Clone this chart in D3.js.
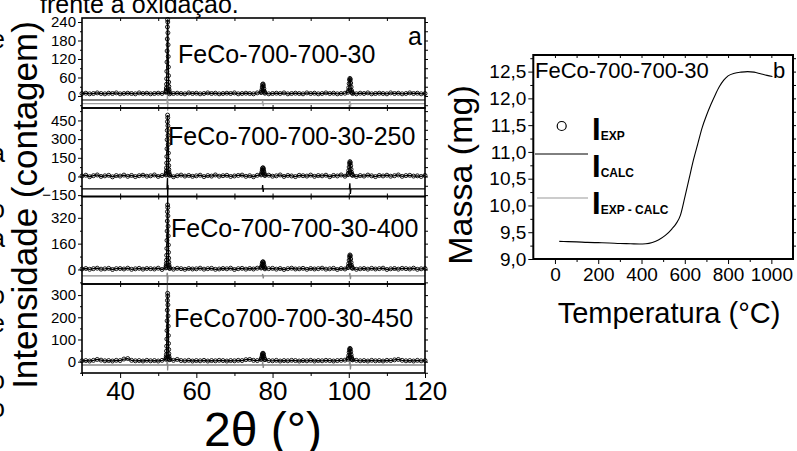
<!DOCTYPE html>
<html><head><meta charset="utf-8">
<script src="https://cdn.jsdelivr.net/npm/d3@7"></script>
<style>body{margin:0;background:#fff} svg{display:block}</style>
</head><body>
<svg id="c" width="797" height="451"></svg>
<script>
// ---------------- DATA ----------------
const panelLabels = ["FeCo-700-700-30","FeCo-700-700-30-250","FeCo-700-700-30-400","FeCo700-700-30-450"];
const xTickLabels = [40,60,80,100,120];
const yTicks1 = [0,60,120,180,240];
const yTicks2 = [-150,0,150,300,450];
const yTicks3 = [0,160,320];
const yTicks4 = [0,100,200,300];

// background intensities sampled every 1 degree, 30..120
const bg1 = [8,9,7,8,10,8,7,9,8,10, 7,8,9,8,7,10,8,9,7,8, 9,8,10,7,8,9,8,7,10,8, 9,7,8,10,8,9,7,8,9,8, 10,7,8,9,8,7,10,8,9,7, 8,9,8,10,7,8,9,8,7,10, 8,9,7,8,10,8,9,7,8,9, 10,8,7,9,8,10,7,8,9,8, 7,10,8,9,7,8,10,8,9,7, 8];
const bg2 = [4,10,-2,6,12,0,5,9,-3,7, 3,11,1,8,-1,6,10,2,5,12, 0,7,4,9,-2,6,11,3,8,1, 5,10,-1,7,3,12,2,6,9,0, 4,8,11,1,6,-2,9,3,7,10, 2,5,12,0,8,4,-1,9,6,3, 11,1,7,5,10,-2,8,4,12,2, 6,9,0,7,3,11,5,-1,8,4, 10,2,6,12,1,7,9,3,5,0, 8];
const bg3 = [3,6,1,5,8,2,4,7,0,5, 6,3,8,1,4,7,2,6,5,3, 8,0,4,6,2,7,5,1,6,3, 4,8,2,5,7,1,3,6,4,8, 0,5,7,2,6,3,8,1,4,5, 7,2,6,0,5,8,3,4,7,1, 6,3,5,8,2,4,7,0,6,3, 5,8,1,4,6,2,7,3,5,8, 0,4,6,2,7,5,3,8,1,4, 6];
const bg4 = [4,5,3,6,10,7,4,5,3,6, 5,12,14,6,4,5,3,6,4,5, 3,6,8,9,6,10,5,4,6,3, 5,4,6,3,5,4,6,5,3,5, 4,6,5,9,10,6,5,8,9,5, 4,6,3,5,4,6,5,3,5,4, 6,3,5,4,6,5,3,5,6,7, 9,8,6,4,5,3,6,4,5,3, 6,5,8,10,6,4,5,3,6,4, 5];

// peak regions [2theta, intensity]
const peaks1 = [[52.02,12],[52.06,14],[52.10,18],[52.14,26],[52.18,38],[52.22,56],[52.26,80],[52.30,110],[52.34,146],[52.38,185],[52.42,224],[52.46,248],[52.50,240],[52.54,205],[52.58,166],[52.62,128],[52.66,94],[52.70,66],[52.74,45],[52.78,31],[52.82,21],[52.86,15],[52.90,12],
  [77.0,11],[77.1,14],[77.2,20],[77.3,29],[77.4,37],[77.5,39],[77.6,33],[77.7,24],[77.8,16],[77.9,12],
  [99.8,12],[99.9,17],[100.0,27],[100.1,40],[100.2,52],[100.3,57],[100.4,53],[100.5,42],[100.6,29],[100.7,18],[100.8,13],[100.9,11]];
const peaks2 = [[52.02,12],[52.06,18],[52.10,28],[52.14,44],[52.18,70],[52.22,108],[52.26,160],[52.30,222],[52.34,295],[52.38,370],[52.42,440],[52.46,493],[52.50,472],[52.54,408],[52.58,330],[52.62,256],[52.66,188],[52.70,132],[52.74,88],[52.78,56],[52.82,34],[52.86,20],[52.90,13],
  [77.0,12],[77.1,20],[77.2,34],[77.3,52],[77.4,66],[77.5,70],[77.6,60],[77.7,42],[77.8,26],[77.9,15],
  [99.8,14],[99.9,26],[100.0,48],[100.1,76],[100.2,104],[100.3,119],[100.4,110],[100.5,86],[100.6,57],[100.7,33],[100.8,18],[100.9,12]];
const peaks3 = [[52.02,10],[52.06,15],[52.10,24],[52.14,38],[52.18,58],[52.22,88],[52.26,130],[52.30,180],[52.34,238],[52.38,300],[52.42,358],[52.46,400],[52.50,384],[52.54,332],[52.58,268],[52.62,208],[52.66,152],[52.70,106],[52.74,70],[52.78,45],[52.82,27],[52.86,16],[52.90,10],
  [77.0,9],[77.1,14],[77.2,24],[77.3,36],[77.4,45],[77.5,48],[77.6,41],[77.7,29],[77.8,18],[77.9,11],
  [99.8,11],[99.9,20],[100.0,37],[100.1,58],[100.2,79],[100.3,90],[100.4,84],[100.5,65],[100.6,43],[100.7,25],[100.8,14],[100.9,9]];
const peaks4 = [[52.02,11],[52.06,15],[52.10,22],[52.14,32],[52.18,48],[52.22,70],[52.26,102],[52.30,140],[52.34,184],[52.38,232],[52.42,276],[52.46,308],[52.50,296],[52.54,256],[52.58,206],[52.62,160],[52.66,118],[52.70,82],[52.74,55],[52.78,36],[52.82,23],[52.86,15],[52.90,11],
  [77.0,10],[77.1,14],[77.2,21],[77.3,30],[77.4,36],[77.5,38],[77.6,33],[77.7,24],[77.8,16],[77.9,11],
  [99.8,11],[99.9,17],[100.0,28],[100.1,42],[100.2,54],[100.3,60],[100.4,56],[100.5,45],[100.6,31],[100.7,20],[100.8,13],[100.9,10]];

// difference curves (offset) [2theta, value]
const diff1 = [[30,-25],[52.30,-25],[52.38,-8],[52.44,10],[52.48,-48],[52.54,-18],[52.62,-25],[77.30,-25],[77.40,-16],[77.55,-33],[77.65,-25],[100.15,-25],[100.28,-12],[100.42,-36],[100.55,-25],[120,-25]];
const diff2 = [[30,-100],[52.30,-100],[52.38,-40],[52.44,-10],[52.48,-230],[52.54,-70],[52.62,-100],[77.30,-100],[77.40,-70],[77.55,-125],[77.65,-100],[100.15,-100],[100.28,-55],[100.42,-140],[100.55,-100],[120,-100]];
const diff3 = [[30,-40],[52.30,-40],[52.40,-20],[52.48,-70],[52.56,-40],[77.30,-40],[77.42,-28],[77.56,-55],[77.66,-40],[100.15,-40],[100.28,-22],[100.42,-60],[100.55,-40],[120,-40]];
const diff4 = [[30,-15],[52.30,-15],[52.40,400],[52.46,-40],[52.54,-15],[77.30,-15],[77.42,0],[77.56,-28],[77.66,-15],[100.15,-15],[100.28,40],[100.42,-35],[100.55,-15],[120,-15]];
const refLine1 = -13;

// TGA curve
const tgaT = [20,60,100,150,200,250,300,350,390,420,450,480,510,540,560,580,600,620,640,660,680,700,720,740,760,780,800,830,860,890,920,950,980,1005];
const tgaM = [9.33,9.325,9.32,9.31,9.305,9.30,9.29,9.285,9.28,9.285,9.31,9.36,9.44,9.56,9.66,9.82,10.15,10.50,10.85,11.15,11.45,11.68,11.88,12.06,12.22,12.34,12.42,12.47,12.49,12.50,12.49,12.46,12.43,12.41];
const tgaXTicks = [0,200,400,600,800,1000];
const tgaYTicks = [9.0,9.5,10.0,10.5,11.0,11.5,12.0,12.5];

// cut-off characters of the surrounding document (left edge)
const edgeChars = ["e","l","l","r","a","l","o","a","l","o","e","l","o","o","l"];

// ---------------- DRAW ----------------
const FONT = '"Liberation Sans", Arial, Helvetica, sans-serif';
const svg = d3.select('#c').style('font-family', FONT);

// cut-off document text
svg.append('text').attr('x', 40).attr('y', 13).attr('font-size', 25).text('frente à oxidação.');
svg.append('g').selectAll('text').data(edgeChars).join('text')
  .attr('x', -9).attr('y', (d, k) => 48 + 28.4 * k).attr('font-size', 25).text(d => d);

const x = d3.scaleLinear().domain([30,120]).range([82,425]);
const bgTheta = d3.range(30,121,1);

const panels = [
  {bg:bg1, peaks:peaks1, diff:diff1, dc:'#a0a0a0', top:18, bottom:108, dom:[-39,253], major:yTicks1, minorStep:30, label:panelLabels[0], lx:178, ly:63, ref:refLine1},
  {bg:bg2, peaks:peaks2, diff:diff2, dc:'#000', top:108, bottom:196.5, dom:[-161,550], major:yTicks2, minorStep:75, label:panelLabels[1], lx:168, ly:145},
  {bg:bg3, peaks:peaks3, diff:diff3, dc:'#888', top:196.5, bottom:284, dom:[-90,452], major:yTicks3, minorStep:80, label:panelLabels[2], lx:171, ly:236.5},
  {bg:bg4, peaks:peaks4, diff:diff4, dc:'#888', top:284, bottom:373, dom:[-51,350], major:yTicks4, minorStep:50, label:panelLabels[3], lx:174, ly:326.5}
];

const windows = [[51.95,52.95],[76.95,77.95],[99.75,100.95]];
const inWin = t => windows.some(w => t >= w[0] && t <= w[1]);

function styleAxis(g, fs) {
  g.select('.domain').remove();
  g.selectAll('line').attr('stroke', '#000').attr('stroke-width', 1);
  g.selectAll('text').attr('fill', '#000').attr('font-size', fs).attr('font-family', FONT);
}

panels.forEach((p, i) => {
  const y = d3.scaleLinear().domain(p.dom).range([p.bottom, p.top]);
  const pts = bgTheta.map((t, k) => [t, p.bg[k]]).filter(d => !inWin(d[0])).concat(p.peaks).sort((a,b) => a[0]-b[0]);
  const g = svg.append('g');
  const minor = d3.range(Math.ceil(p.dom[0]/p.minorStep)*p.minorStep, p.dom[1], p.minorStep).filter(v => !p.major.includes(v));

  g.append('g').attr('transform', `translate(${x.range()[0]},0)`)
    .call(d3.axisLeft(y).tickValues(p.major).tickSize(4).tickPadding(2)).call(s => styleAxis(s, 15));
  g.append('g').attr('transform', `translate(${x.range()[0]},0)`)
    .call(d3.axisLeft(y).tickValues(minor).tickSize(2).tickFormat('')).call(s => styleAxis(s, 15));
  g.append('g').attr('transform', `translate(${x.range()[1]},0)`)
    .call(d3.axisLeft(y).tickValues(p.major.concat(minor)).tickSize(-3).tickFormat('')).call(s => styleAxis(s, 15));
  g.append('g').attr('transform', `translate(0,${p.top})`)
    .call(d3.axisBottom(x).tickValues(d3.range(40,120,10)).tickSize(3).tickFormat('')).call(s => styleAxis(s, 15));
  if (i < panels.length - 1) {
    g.append('g').attr('transform', `translate(0,${p.bottom})`)
      .call(d3.axisTop(x).tickValues(d3.range(40,120,10)).tickSize(3).tickFormat('')).call(s => styleAxis(s, 15));
  } else {
    g.append('g').attr('transform', `translate(0,${p.bottom})`)
      .call(d3.axisBottom(x).tickValues(xTickLabels).tickSize(5).tickPadding(4)).call(s => styleAxis(s, 26));
    g.append('g').attr('transform', `translate(0,${p.bottom})`)
      .call(d3.axisBottom(x).tickValues(d3.range(30,120,20)).tickSize(3).tickFormat('')).call(s => styleAxis(s, 26));
  }

  if (p.ref !== undefined) {
    g.append('line').attr('x1', x(30)).attr('x2', x(120)).attr('y1', y(p.ref)).attr('y2', y(p.ref)).attr('stroke', '#000').attr('stroke-width', 1);
  }
  g.append('path').datum(p.diff).attr('fill', 'none').attr('stroke', p.dc).attr('stroke-width', 1.3)
    .attr('d', d3.line().x(d => x(d[0])).y(d => y(d[1])));
  g.append('path').datum(pts).attr('fill', 'none').attr('stroke', '#000').attr('stroke-width', 1.3)
    .attr('d', d3.line().x(d => x(d[0])).y(d => y(d[1])));
  g.append('g').selectAll('circle').data(pts).join('circle')
    .attr('cx', d => x(d[0])).attr('cy', d => y(d[1])).attr('r', 2)
    .attr('fill', 'none').attr('stroke', '#000').attr('stroke-width', 0.9);

  g.append('rect').attr('x', x(30)).attr('y', p.top).attr('width', x(120)-x(30)).attr('height', p.bottom-p.top)
    .attr('fill', 'none').attr('stroke', '#000').attr('stroke-width', 1.6);

  g.append('text').attr('x', p.lx).attr('y', p.ly).attr('font-size', 25).text(p.label);
});

svg.append('text').attr('x', 408).attr('y', 45).attr('font-size', 25).text('a');
svg.append('text').attr('transform', 'translate(37,205) rotate(-90)').attr('text-anchor', 'middle')
  .attr('font-size', 35).text('Intensidade (contagem)');
svg.append('text').attr('x', 263).attr('y', 446).attr('text-anchor', 'middle').attr('font-size', 48).text('2θ (°)');

// ---------------- RIGHT: TGA ----------------
const xr = d3.scaleLinear().domain([-100,1100]).range([533.3,793]);
const yr = d3.scaleLinear().domain([9.0,12.81]).range([259,55]);
const gr = svg.append('g');
const fmt = v => d3.format('.1f')(v).replace('.', ',');

gr.append('g').attr('transform', `translate(0,259)`)
  .call(d3.axisBottom(xr).tickValues(tgaXTicks).tickSize(5).tickPadding(4).tickFormat(d3.format('d'))).call(s => styleAxis(s, 19));
gr.append('g').attr('transform', `translate(0,259)`)
  .call(d3.axisBottom(xr).tickValues(d3.range(100,1100,200)).tickSize(3).tickFormat('')).call(s => styleAxis(s, 19));
gr.append('g').attr('transform', `translate(533.3,0)`)
  .call(d3.axisLeft(yr).tickValues(tgaYTicks).tickSize(5).tickPadding(2).tickFormat(fmt)).call(s => styleAxis(s, 19));
gr.append('g').attr('transform', `translate(533.3,0)`)
  .call(d3.axisLeft(yr).tickValues(d3.range(9.25,12.8,0.5)).tickSize(3).tickFormat('')).call(s => styleAxis(s, 19));
gr.append('g').attr('transform', `translate(0,55)`)
  .call(d3.axisBottom(xr).tickValues(d3.range(0,1100,100)).tickSize(3).tickFormat('')).call(s => styleAxis(s, 19));
gr.append('g').attr('transform', `translate(793,0)`)
  .call(d3.axisLeft(yr).tickValues(d3.range(9.25,12.8,0.25)).tickSize(-3).tickFormat('')).call(s => styleAxis(s, 19));

gr.append('path').datum(tgaT.map((t,k) => [t, tgaM[k]])).attr('fill', 'none').attr('stroke', '#000').attr('stroke-width', 1.1)
  .attr('d', d3.line().curve(d3.curveMonotoneX).x(d => xr(d[0])).y(d => yr(d[1])));

gr.append('rect').attr('x', 533.3).attr('y', 55).attr('width', 793-533.3).attr('height', 259-55)
  .attr('fill', 'none').attr('stroke', '#000').attr('stroke-width', 2);

gr.append('text').attr('x', 535).attr('y', 78).attr('font-size', 22).text('FeCo-700-700-30');
gr.append('text').attr('x', 773).attr('y', 78).attr('font-size', 22).text('b');

// legend
gr.append('circle').attr('cx', 561.7).attr('cy', 126).attr('r', 4.5).attr('fill', 'none').attr('stroke', '#000').attr('stroke-width', 1.2);
gr.append('line').attr('x1', 535).attr('x2', 588).attr('y1', 154).attr('y2', 154).attr('stroke', '#000').attr('stroke-width', 1);
gr.append('line').attr('x1', 537).attr('x2', 588).attr('y1', 198).attr('y2', 198).attr('stroke', '#999').attr('stroke-width', 1);
[['EXP',140],['CALC',177],['EXP - CALC',213.5]].forEach(([s, by]) => {
  const t = gr.append('text').attr('x', 592).attr('y', by).attr('font-weight', 'bold');
  t.append('tspan').attr('font-size', 31).text('I');
  t.append('tspan').attr('font-size', 12).text(s);
});

svg.append('text').attr('transform', 'translate(472,175) rotate(-90)').attr('text-anchor', 'middle')
  .attr('font-size', 34).text('Massa (mg)');
svg.append('text').attr('x', 669).attr('y', 323).attr('text-anchor', 'middle').attr('font-size', 29).text('Temperatura (°C)');
</script>
</body></html>
